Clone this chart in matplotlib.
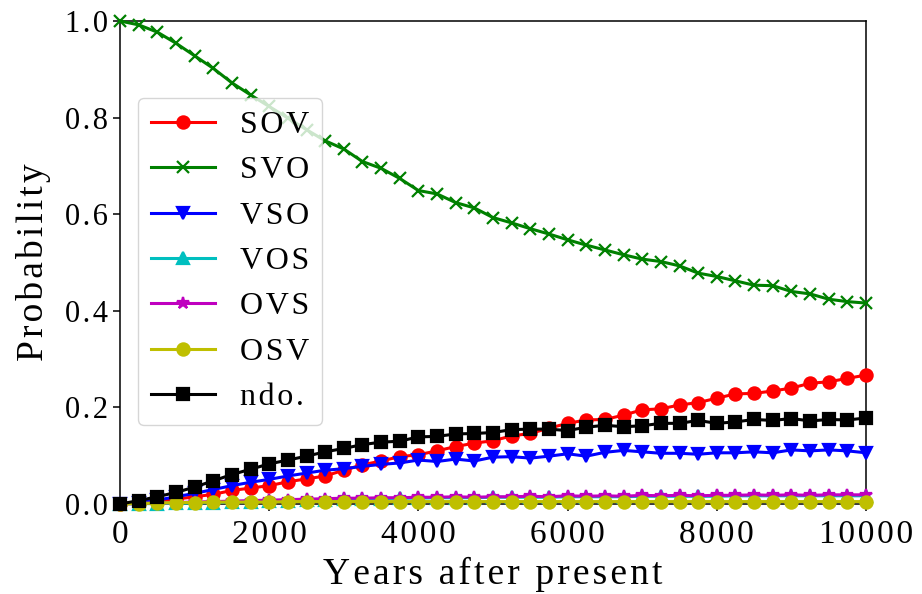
import numpy as np
import matplotlib
matplotlib.use("Agg")
import matplotlib.pyplot as plt

years = list(range(0, 10001, 250))

sov = [0.000, 0.003, 0.006, 0.010, 0.015, 0.020, 0.028, 0.033, 0.038, 0.046,
       0.052, 0.058, 0.070, 0.081, 0.089, 0.098, 0.102, 0.110, 0.119, 0.126,
       0.131, 0.141, 0.146, 0.157, 0.167, 0.174, 0.175, 0.184, 0.195, 0.197,
       0.205, 0.210, 0.219, 0.228, 0.229, 0.234, 0.240, 0.250, 0.253, 0.260,
       0.267]
svo = [1.000, 0.992, 0.977, 0.954, 0.928, 0.902, 0.872, 0.847, 0.823, 0.799,
       0.775, 0.752, 0.735, 0.709, 0.695, 0.674, 0.649, 0.642, 0.624, 0.613,
       0.593, 0.582, 0.570, 0.559, 0.547, 0.536, 0.526, 0.516, 0.507, 0.502,
       0.493, 0.478, 0.471, 0.462, 0.453, 0.452, 0.440, 0.435, 0.424, 0.419,
       0.416]
vso = [0.000, 0.003, 0.008, 0.015, 0.022, 0.030, 0.038, 0.045, 0.051, 0.058,
       0.064, 0.070, 0.073, 0.078, 0.082, 0.085, 0.091, 0.088, 0.093, 0.089,
       0.097, 0.098, 0.095, 0.099, 0.104, 0.099, 0.107, 0.111, 0.108, 0.105,
       0.105, 0.103, 0.106, 0.106, 0.108, 0.106, 0.112, 0.110, 0.112, 0.110,
       0.106]
vos = [0.000, 0.0005, 0.001, 0.0015, 0.002, 0.003, 0.004, 0.005, 0.006, 0.007,
       0.008, 0.009, 0.010, 0.011, 0.011, 0.012, 0.012, 0.013, 0.013, 0.013,
       0.014, 0.014, 0.014, 0.014, 0.015, 0.015, 0.015, 0.015, 0.016, 0.016,
       0.016, 0.016, 0.016, 0.017, 0.017, 0.017, 0.017, 0.017, 0.017, 0.017,
       0.017]
ovs = [0.000, 0.001, 0.002, 0.003, 0.004, 0.005, 0.006, 0.007, 0.008, 0.009,
       0.010, 0.011, 0.012, 0.012, 0.013, 0.013, 0.014, 0.014, 0.015, 0.014,
       0.015, 0.015, 0.016, 0.015, 0.017, 0.016, 0.017, 0.016, 0.018, 0.017,
       0.018, 0.017, 0.018, 0.018, 0.019, 0.018, 0.019, 0.018, 0.019, 0.019,
       0.019]
osv = [0.000, 0.001, 0.002, 0.003, 0.003, 0.004, 0.004, 0.004, 0.004, 0.005,
       0.005, 0.005, 0.005, 0.005, 0.005, 0.005, 0.005, 0.005, 0.005, 0.005,
       0.005, 0.005, 0.005, 0.005, 0.005, 0.005, 0.005, 0.005, 0.005, 0.005,
       0.005, 0.005, 0.005, 0.005, 0.005, 0.005, 0.005, 0.005, 0.005, 0.005,
       0.005]
ndo = [0.000, 0.007, 0.015, 0.024, 0.035, 0.048, 0.061, 0.072, 0.083, 0.091,
       0.099, 0.108, 0.115, 0.123, 0.128, 0.130, 0.139, 0.140, 0.145, 0.146,
       0.148, 0.154, 0.155, 0.155, 0.152, 0.159, 0.163, 0.160, 0.162, 0.167,
       0.167, 0.173, 0.167, 0.170, 0.175, 0.173, 0.177, 0.172, 0.175, 0.174,
       0.178]

labels = ["SOV", "SVO", "VSO", "VOS", "OVS", "OSV", "ndo."]
xticks = [0, 2000, 4000, 6000, 8000, 10000]
yticks = [0.0, 0.2, 0.4, 0.6, 0.8, 1.0]

HS = "\u200a"
def spaced(s):
    return HS.join(list(s))

plt.rcParams['font.family'] = ['Liberation Serif', 'DejaVu Serif']

fig = plt.figure(figsize=(9.22, 5.94), dpi=100)
ax = fig.add_axes([120/922, 90/594, 746/922, 483/594])

series = [sov, svo, vso, vos, ovs, osv, ndo]
styles = [('r', 'o'), ('g', 'x'), ('b', 'v'), ('c', '^'), ('m', '*'), ('y', 'o'), ('k', 's')]
for data, lab, (c, m) in zip(series, labels, styles):
    ax.plot(years, data, color=c, marker=m, lw=2.2, ms=8.8, mew=1.6,
            label=spaced(lab), clip_on=False, zorder=3)

ax.set_xlim(0, 10000)
ax.set_ylim(0, 1.0)
ax.set_xticks(xticks)
ax.set_xticklabels([spaced(str(t)) for t in xticks])
ax.set_yticks(yticks)
ax.set_yticklabels([spaced(f"{t:.1f}") for t in yticks])
ax.tick_params(axis='y', labelsize=22, length=5, width=1.1)
ax.tick_params(axis='x', labelsize=24, length=5, width=1.1, pad=6)
for sp in ax.spines.values():
    sp.set_linewidth(1.1)
ax.set_xlabel(spaced("Years after present"), fontsize=27, labelpad=5)
ax.set_ylabel(spaced("Probability"), fontsize=27, labelpad=10)

ax.legend(loc='upper left', bbox_to_anchor=(18/746, (504-98)/483),
          borderaxespad=0, fontsize=23)

fig.savefig("out.png", dpi=100)
